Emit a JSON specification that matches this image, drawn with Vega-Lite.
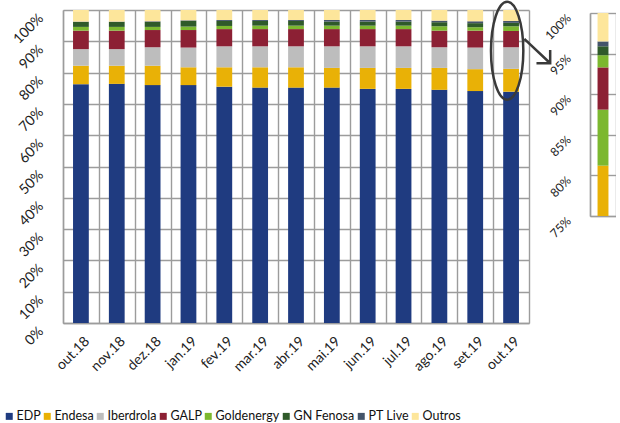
{
  "$schema": "https://vega.github.io/schema/vega-lite/v6.json",
  "background": "white",
  "padding": {"left": 3, "top": -4, "right": 0, "bottom": 0},
  "config": {
    "font": "Lato",
    "view": {"stroke": null},
    "axis": {
      "labelFont": "Lato",
      "labelFontSize": 14,
      "labelColor": "#222222",
      "gridColor": "#9c9c9c",
      "gridWidth": 1.4,
      "gridOpacity": 1,
      "domainColor": "#9c9c9c",
      "domainWidth": 1.4,
      "ticks": false,
      "title": null,
      "labelOverlap": false
    }
  },
  "datasets": {
    "shares": [
      {"month": "out.18", "series": "EDP", "k": 0, "value": 76.3},
      {"month": "out.18", "series": "Endesa", "k": 1, "value": 5.9},
      {"month": "out.18", "series": "Iberdrola", "k": 2, "value": 5.3},
      {"month": "out.18", "series": "GALP", "k": 3, "value": 5.9},
      {"month": "out.18", "series": "Goldenergy", "k": 4, "value": 1.2},
      {"month": "out.18", "series": "GN Fenosa", "k": 5, "value": 1.6},
      {"month": "out.18", "series": "PT Live", "k": 6, "value": 0.1},
      {"month": "out.18", "series": "Outros", "k": 7, "value": 3.7},
      {"month": "nov.18", "series": "EDP", "k": 0, "value": 76.4},
      {"month": "nov.18", "series": "Endesa", "k": 1, "value": 5.8},
      {"month": "nov.18", "series": "Iberdrola", "k": 2, "value": 5.3},
      {"month": "nov.18", "series": "GALP", "k": 3, "value": 5.9},
      {"month": "nov.18", "series": "Goldenergy", "k": 4, "value": 1.2},
      {"month": "nov.18", "series": "GN Fenosa", "k": 5, "value": 1.6},
      {"month": "nov.18", "series": "PT Live", "k": 6, "value": 0.1},
      {"month": "nov.18", "series": "Outros", "k": 7, "value": 3.7},
      {"month": "dez.18", "series": "EDP", "k": 0, "value": 76.0},
      {"month": "dez.18", "series": "Endesa", "k": 1, "value": 6.2},
      {"month": "dez.18", "series": "Iberdrola", "k": 2, "value": 5.9},
      {"month": "dez.18", "series": "GALP", "k": 3, "value": 5.5},
      {"month": "dez.18", "series": "Goldenergy", "k": 4, "value": 1.0},
      {"month": "dez.18", "series": "GN Fenosa", "k": 5, "value": 1.6},
      {"month": "dez.18", "series": "PT Live", "k": 6, "value": 0.2},
      {"month": "dez.18", "series": "Outros", "k": 7, "value": 3.6},
      {"month": "jan.19", "series": "EDP", "k": 0, "value": 76.0},
      {"month": "jan.19", "series": "Endesa", "k": 1, "value": 5.7},
      {"month": "jan.19", "series": "Iberdrola", "k": 2, "value": 6.3},
      {"month": "jan.19", "series": "GALP", "k": 3, "value": 5.6},
      {"month": "jan.19", "series": "Goldenergy", "k": 4, "value": 1.1},
      {"month": "jan.19", "series": "GN Fenosa", "k": 5, "value": 1.8},
      {"month": "jan.19", "series": "PT Live", "k": 6, "value": 0.2},
      {"month": "jan.19", "series": "Outros", "k": 7, "value": 3.3},
      {"month": "fev.19", "series": "EDP", "k": 0, "value": 75.5},
      {"month": "fev.19", "series": "Endesa", "k": 1, "value": 6.2},
      {"month": "fev.19", "series": "Iberdrola", "k": 2, "value": 6.7},
      {"month": "fev.19", "series": "GALP", "k": 3, "value": 5.5},
      {"month": "fev.19", "series": "Goldenergy", "k": 4, "value": 1.0},
      {"month": "fev.19", "series": "GN Fenosa", "k": 5, "value": 1.6},
      {"month": "fev.19", "series": "PT Live", "k": 6, "value": 0.3},
      {"month": "fev.19", "series": "Outros", "k": 7, "value": 3.2},
      {"month": "mar.19", "series": "EDP", "k": 0, "value": 75.2},
      {"month": "mar.19", "series": "Endesa", "k": 1, "value": 6.5},
      {"month": "mar.19", "series": "Iberdrola", "k": 2, "value": 6.7},
      {"month": "mar.19", "series": "GALP", "k": 3, "value": 5.5},
      {"month": "mar.19", "series": "Goldenergy", "k": 4, "value": 1.1},
      {"month": "mar.19", "series": "GN Fenosa", "k": 5, "value": 1.5},
      {"month": "mar.19", "series": "PT Live", "k": 6, "value": 0.3},
      {"month": "mar.19", "series": "Outros", "k": 7, "value": 3.2},
      {"month": "abr.19", "series": "EDP", "k": 0, "value": 75.2},
      {"month": "abr.19", "series": "Endesa", "k": 1, "value": 6.5},
      {"month": "abr.19", "series": "Iberdrola", "k": 2, "value": 6.7},
      {"month": "abr.19", "series": "GALP", "k": 3, "value": 5.5},
      {"month": "abr.19", "series": "Goldenergy", "k": 4, "value": 1.1},
      {"month": "abr.19", "series": "GN Fenosa", "k": 5, "value": 1.5},
      {"month": "abr.19", "series": "PT Live", "k": 6, "value": 0.3},
      {"month": "abr.19", "series": "Outros", "k": 7, "value": 3.2},
      {"month": "mai.19", "series": "EDP", "k": 0, "value": 75.2},
      {"month": "mai.19", "series": "Endesa", "k": 1, "value": 6.3},
      {"month": "mai.19", "series": "Iberdrola", "k": 2, "value": 6.9},
      {"month": "mai.19", "series": "GALP", "k": 3, "value": 5.5},
      {"month": "mai.19", "series": "Goldenergy", "k": 4, "value": 1.1},
      {"month": "mai.19", "series": "GN Fenosa", "k": 5, "value": 1.3},
      {"month": "mai.19", "series": "PT Live", "k": 6, "value": 0.5},
      {"month": "mai.19", "series": "Outros", "k": 7, "value": 3.2},
      {"month": "jun.19", "series": "EDP", "k": 0, "value": 74.8},
      {"month": "jun.19", "series": "Endesa", "k": 1, "value": 6.7},
      {"month": "jun.19", "series": "Iberdrola", "k": 2, "value": 6.9},
      {"month": "jun.19", "series": "GALP", "k": 3, "value": 5.5},
      {"month": "jun.19", "series": "Goldenergy", "k": 4, "value": 1.1},
      {"month": "jun.19", "series": "GN Fenosa", "k": 5, "value": 1.3},
      {"month": "jun.19", "series": "PT Live", "k": 6, "value": 0.5},
      {"month": "jun.19", "series": "Outros", "k": 7, "value": 3.2},
      {"month": "jul.19", "series": "EDP", "k": 0, "value": 74.8},
      {"month": "jul.19", "series": "Endesa", "k": 1, "value": 6.7},
      {"month": "jul.19", "series": "Iberdrola", "k": 2, "value": 6.9},
      {"month": "jul.19", "series": "GALP", "k": 3, "value": 5.5},
      {"month": "jul.19", "series": "Goldenergy", "k": 4, "value": 1.1},
      {"month": "jul.19", "series": "GN Fenosa", "k": 5, "value": 1.3},
      {"month": "jul.19", "series": "PT Live", "k": 6, "value": 0.5},
      {"month": "jul.19", "series": "Outros", "k": 7, "value": 3.2},
      {"month": "ago.19", "series": "EDP", "k": 0, "value": 74.5},
      {"month": "ago.19", "series": "Endesa", "k": 1, "value": 7.0},
      {"month": "ago.19", "series": "Iberdrola", "k": 2, "value": 6.6},
      {"month": "ago.19", "series": "GALP", "k": 3, "value": 5.3},
      {"month": "ago.19", "series": "Goldenergy", "k": 4, "value": 1.4},
      {"month": "ago.19", "series": "GN Fenosa", "k": 5, "value": 1.3},
      {"month": "ago.19", "series": "PT Live", "k": 6, "value": 0.5},
      {"month": "ago.19", "series": "Outros", "k": 7, "value": 3.4},
      {"month": "set.19", "series": "EDP", "k": 0, "value": 74.1},
      {"month": "set.19", "series": "Endesa", "k": 1, "value": 7.0},
      {"month": "set.19", "series": "Iberdrola", "k": 2, "value": 6.9},
      {"month": "set.19", "series": "GALP", "k": 3, "value": 5.4},
      {"month": "set.19", "series": "Goldenergy", "k": 4, "value": 1.1},
      {"month": "set.19", "series": "GN Fenosa", "k": 5, "value": 1.3},
      {"month": "set.19", "series": "PT Live", "k": 6, "value": 0.6},
      {"month": "set.19", "series": "Outros", "k": 7, "value": 3.6},
      {"month": "out.19", "series": "EDP", "k": 0, "value": 73.9},
      {"month": "out.19", "series": "Endesa", "k": 1, "value": 7.3},
      {"month": "out.19", "series": "Iberdrola", "k": 2, "value": 6.9},
      {"month": "out.19", "series": "GALP", "k": 3, "value": 5.2},
      {"month": "out.19", "series": "Goldenergy", "k": 4, "value": 1.5},
      {"month": "out.19", "series": "GN Fenosa", "k": 5, "value": 1.1},
      {"month": "out.19", "series": "PT Live", "k": 6, "value": 0.6},
      {"month": "out.19", "series": "Outros", "k": 7, "value": 3.5}
    ],
    "inset": [
      {"month": "out.19", "series": "EDP", "source": "EDP", "k": 0, "value": 73.9},
      {"month": "out.19", "series": "Endesa", "source": "Endesa", "k": 1, "value": 7.3},
      {"month": "out.19", "series": "Goldenergy", "source": "Iberdrola", "k": 2, "value": 6.9},
      {"month": "out.19", "series": "GALP", "source": "GALP", "k": 3, "value": 5.2},
      {"month": "out.19", "series": "Goldenergy", "source": "Goldenergy", "k": 4, "value": 1.5},
      {"month": "out.19", "series": "GN Fenosa", "source": "GN Fenosa", "k": 5, "value": 1.1},
      {"month": "out.19", "series": "PT Live", "source": "PT Live", "k": 6, "value": 0.6},
      {"month": "out.19", "series": "Outros", "source": "Outros", "k": 7, "value": 3.5}
    ]
  },
  "bounds": "flush",
  "spacing": 61,
  "resolve": {"scale": {"color": "shared"}},
  "hconcat": [
    {
      "width": 466,
      "height": 313,
      "layer": [
        {
          "data": {"name": "shares"},
          "mark": {"type": "bar", "width": {"band": 0.44}},
          "encoding": {
            "x": {
              "field": "month", "type": "nominal", "sort": null,
              "scale": {"paddingInner": 0, "paddingOuter": 0},
              "axis": {"labelAngle": -45, "labelAlign": "right", "labelBaseline": "top", "tickBand": "extent", "grid": true, "labelPadding": 11, "labelOffset": 1, "labelOverlap": false}
            },
            "y": {
              "field": "value", "type": "quantitative", "stack": "zero",
              "scale": {"domain": [0, 100]},
              "axis": {"values": [0, 10, 20, 30, 40, 50, 60, 70, 80, 90, 100], "labelExpr": "datum.value + '%'", "labelAngle": -45, "labelAlign": "right", "labelBaseline": "top", "grid": true, "labelPadding": 27, "labelOffset": 1, "labelOverlap": false, "labelBound": false}
            },
            "color": {
              "field": "series", "type": "nominal",
              "scale": {
                "domain": ["EDP", "Endesa", "Iberdrola", "GALP", "Goldenergy", "GN Fenosa", "PT Live", "Outros"],
                "range": ["#1f3b80", "#e9b106", "#bdbdbd", "#8c2034", "#7cb82f", "#2f5a2a", "#44546a", "#fde69b"]
              },
              "legend": {
                "title": null, "orient": "none", "direction": "horizontal", "columns": 8,
                "legendX": -60, "legendY": 400,
                "symbolType": "square", "symbolSize": 49, "symbolStrokeWidth": 0,
                "labelFont": "Lato", "labelFontSize": 12.5, "labelColor": "#111111",
                "labelOffset": 1, "columnPadding": 0
              }
            },
            "order": {"field": "k", "type": "quantitative"}
          }
        },
        {
          "data": {"values": [{}]},
          "mark": {
            "type": "point",
            "shape": "M-0.08,-1 C0.102,-1 0.25,-0.552 0.25,0 C0.25,0.552 0.102,1 -0.08,1 C-0.262,1 -0.41,0.552 -0.41,0 C-0.41,-0.552 -0.262,-1 -0.08,-1 Z M0.27,-0.24 L0.798,0.257 M0.518,0.257 L0.798,0.257 L0.798,-0.014",
            "size": 9604, "filled": false, "stroke": "#3a3a3a", "strokeWidth": 2.5, "opacity": 1
          },
          "encoding": {
            "x": {"datum": "out.19", "type": "nominal"},
            "y": {"datum": 87, "type": "quantitative",
              "axis": {"values": [0, 10, 20, 30, 40, 50, 60, 70, 80, 90, 100], "labelExpr": "datum.value + '%'", "labelAngle": -45, "labelAlign": "right", "labelBaseline": "top", "grid": true, "labelPadding": 27, "labelOffset": 1, "labelOverlap": false, "labelBound": false}
            }
          }
        }
      ]
    },
    {
      "bounds": "flush",
      "spacing": 2,
      "vconcat": [
        {
          "width": 26,
          "height": 1,
          "data": {"values": []},
          "mark": {"type": "point", "opacity": 0}
        },
        {
          "width": 26,
          "height": 203,
          "data": {"name": "inset"},
          "mark": {"type": "bar", "width": {"band": 0.42}, "clip": true},
          "encoding": {
            "x": {
              "field": "month", "type": "nominal",
              "scale": {"paddingInner": 0, "paddingOuter": 0},
              "axis": {"labels": false, "tickBand": "extent", "grid": true}
            },
            "y": {
              "field": "value", "type": "quantitative", "stack": "zero",
              "scale": {"domain": [75, 100]},
              "axis": {"values": [75, 80, 85, 90, 95, 100], "labelExpr": "datum.value + '%'", "labelAngle": -45, "labelAlign": "right", "labelBaseline": "top", "grid": true, "labelFontSize": 12, "labelPadding": 25, "labelOffset": -1, "labelOverlap": false}
            },
            "color": {"field": "series", "type": "nominal"},
            "order": {"field": "k", "type": "quantitative"}
          }
        }
      ]
    }
  ]
}
